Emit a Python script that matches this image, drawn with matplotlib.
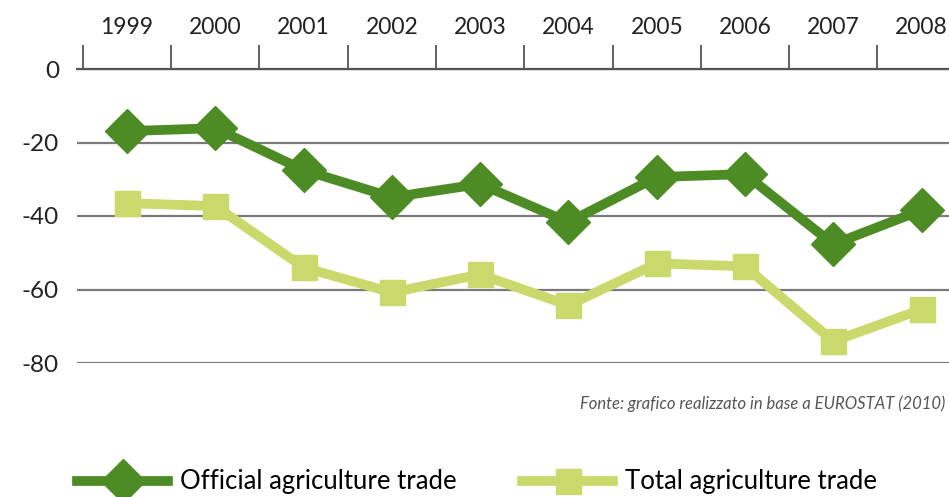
import numpy as np
import matplotlib
matplotlib.use('Agg')
import matplotlib.pyplot as plt
from matplotlib.ticker import FixedLocator

plt.rcParams['font.family'] = ['Lato', 'DejaVu Sans']

# agricultural trade balance by year
years = ['1999', '2000', '2001', '2002', '2003', '2004', '2005', '2006', '2007', '2008']
official = [-16.9, -16.1, -27.5, -34.9, -31.3, -41.7, -29.4, -28.6, -47.7, -38.4]
total = [-36.5, -37.3, -54.0, -60.8, -55.9, -64.3, -52.9, -53.7, -74.1, -65.4]
yticks = [0, -20, -40, -60, -80]

dark = '#4d8c25'
light = '#c9d96b'

fig = plt.figure(figsize=(9.49, 4.97), dpi=100)
# the plot runs off the right edge of the page
ax = fig.add_axes([77 / 949, 134 / 497, 1 - 77 / 949, 294 / 497])

x = np.arange(len(years))
ax.plot(x, official, color=dark, lw=7, marker='D', ms=22,
        label='Official agriculture trade')
ax.plot(x, total, color=light, lw=7, marker='s', ms=18,
        label='Total agriculture trade')

ax.set_xlim(-0.567, 9.31)
ax.set_ylim(-80, 0)

# year labels on top, tick marks between the years
ax.xaxis.tick_top()
ax.set_xticks(x)
ax.set_xticklabels(years, fontsize=16.5, color='#222222')
ax.xaxis.set_minor_locator(FixedLocator(np.arange(-0.5, 10, 1)))
ax.tick_params(axis='x', which='major', length=0, pad=22)
ax.tick_params(axis='x', which='minor', length=17, width=1.3, color='#555555',
               direction='out', top=True, bottom=False)

ax.set_yticks(yticks)
ax.set_yticklabels([str(v) for v in yticks], fontsize=17.5, color='#222222')
ax.tick_params(axis='y', length=0, pad=13)
ax.yaxis.grid(True, color='#7a7a7a', lw=1.6)
ax.set_axisbelow(True)

for side in ['left', 'right', 'bottom']:
    ax.spines[side].set_visible(False)
ax.spines['top'].set_color('#555555')
ax.spines['top'].set_linewidth(1.6)

# source note, right-aligned so it stays on the page
fig.text(945 / 949, 1 - 404 / 497,
         'Fonte: grafico realizzato in base a EUROSTAT (2010)',
         fontsize=12, style='italic', color='#555555', va='center', ha='right')

fig.legend(loc='center left', bbox_to_anchor=(77 / 949, 15 / 497), ncol=2,
           frameon=False, fontsize=18.5, handlelength=3.55, handletextpad=0.45,
           columnspacing=2.55, borderaxespad=0, borderpad=0)

plt.savefig('out.png', dpi=100)
